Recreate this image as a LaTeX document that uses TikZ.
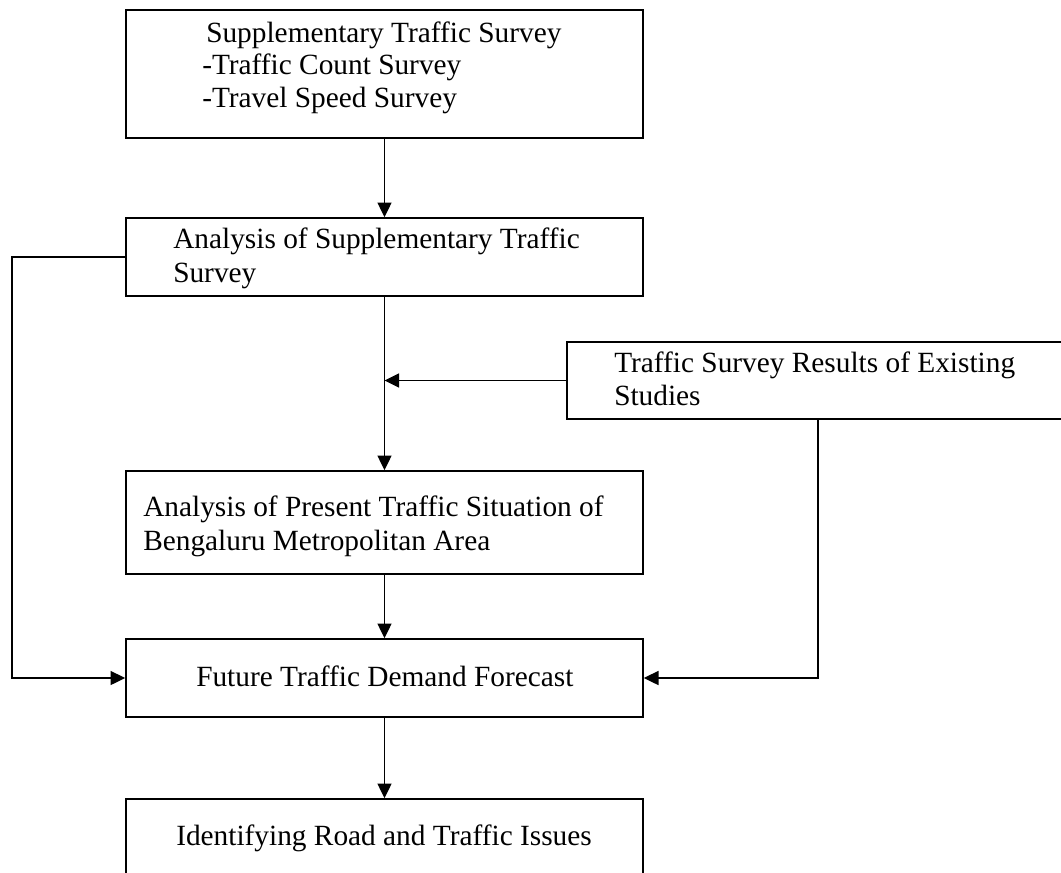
\documentclass[tikz,border=0pt]{standalone}
\usepackage{fontspec}
\setmainfont{Liberation Serif}
\usetikzlibrary{arrows.meta,fit}
\begin{document}
\begin{tikzpicture}[x=0.75pt,y=-0.75pt,
  box/.style={draw, line width=1.25pt, inner sep=0pt},
  txt/.style={anchor=base west, inner sep=0pt, font=\fontsize{22}{26}\selectfont},
  arr/.style={line width=1.25pt, -{Triangle[length=11pt,width=10.5pt]}}]
\fill[white] (0,0) rectangle (1061,872);
\useasboundingbox (0,0) rectangle (1061,872);
% boxes
\node[box, fit={(126,10) (643,138)}] (b1) {};
\node[box, fit={(126,218) (643,296)}] (b2) {};
\node[box, fit={(567,342) (1085,419)}] (b3) {};
\node[box, fit={(126,471) (643,574)}] (b4) {};
\node[box, fit={(126,639) (643,717)}] (b5) {};
\node[box, fit={(126,799) (643,895)}] (b6) {};
% texts
\node[txt] (t1a) at (206,42) {Supplementary Traffic Survey};
\node[txt] (t1b) at (202,74.5) {-Traffic Count Survey};
\node[txt] (t1c) at (202,107) {-Travel Speed Survey};
\node[txt] (t2a) at (173,248) {Analysis of Supplementary Traffic};
\node[txt] (t2b) at (173,282) {Survey};
\node[txt] (t3a) at (614,372) {Traffic Survey Results of Existing};
\node[txt] (t3b) at (614,405) {Studies};
\node[txt] (t4a) at (143,516) {Analysis of Present Traffic Situation of};
\node[txt] (t4b) at (143,550) {Bengaluru Metropolitan Area};
\node[txt] (t5) at (196,686) {Future Traffic Demand Forecast};
\node[txt] (t6) at (176,845) {Identifying Road and Traffic Issues};
% junctions
\coordinate (jl) at (12,678);
\coordinate (jr) at (818,678);
% connectors
\draw[arr] (b1.south) -- (b2.north);
\draw[arr] (b2.south) -- (b4.north);
\draw[arr] (b3.west) -- (b3.west -| b2.south);
\draw[arr] (b4.south) -- (b5.north);
\draw[arr] (b5.south) -- (b6.north);
\draw[arr] (b2.west) -| (jl) -- (b5.west);
\draw[arr] (b3.south -| jr) -- (jr) -- (b5.east);
\end{tikzpicture}
\end{document}
